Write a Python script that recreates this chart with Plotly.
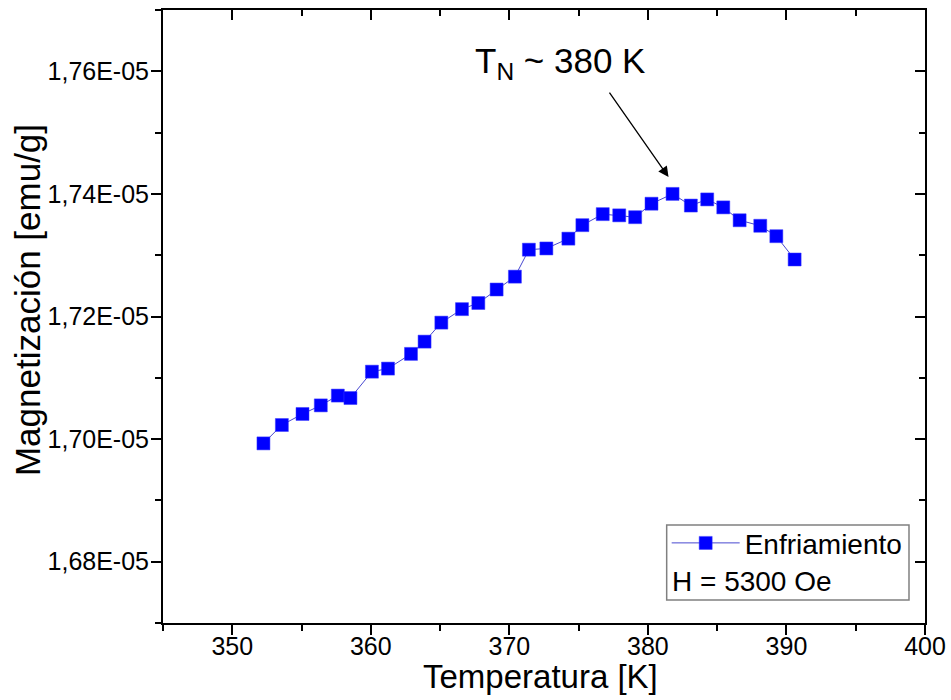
import plotly.graph_objects as go

temperature_K = [352.25, 353.58, 355.07, 356.39, 357.62, 358.53, 360.08, 361.24, 362.90, 363.88,
                 365.09, 366.58, 367.76, 369.08, 370.40, 371.41, 372.67, 374.26, 375.27, 376.74,
                 377.93, 379.08, 380.26, 381.78, 383.10, 384.28, 385.44, 386.62, 388.11, 389.27,
                 390.59]
magnetization = [1.6993e-05, 1.7023e-05, 1.7041e-05, 1.7055e-05, 1.7071e-05, 1.7067e-05, 1.7110e-05,
                 1.7115e-05, 1.7139e-05, 1.7159e-05, 1.7190e-05, 1.7212e-05, 1.7222e-05, 1.7244e-05,
                 1.7265e-05, 1.7309e-05, 1.7311e-05, 1.7327e-05, 1.7349e-05, 1.7367e-05, 1.7365e-05,
                 1.7362e-05, 1.7384e-05, 1.7400e-05, 1.7381e-05, 1.7391e-05, 1.7378e-05, 1.7357e-05,
                 1.7348e-05, 1.7331e-05, 1.7293e-05]

x_tickvals = [350, 360, 370, 380, 390, 400]
x_ticktext = ["350", "360", "370", "380", "390", "400"]
y_tickvals = [1.68e-05, 1.70e-05, 1.72e-05, 1.74e-05, 1.76e-05]
y_ticktext = ["1,68E-05", "1,70E-05", "1,72E-05", "1,74E-05", "1,76E-05"]

series_name = "Enfriamiento"
field_label = "H = 5300 Oe"
peak_label = "T<sub>N</sub> ~ 380 K"
x_title = "Temperatura [K]"
y_title = "Magnetización [emu/g]"

FONT = "Liberation Sans, Arial, sans-serif"
x_range = [345, 400]
y_range = [1.67e-05, 1.77e-05]

fig = go.Figure()
fig.add_trace(go.Scatter(
    x=temperature_K, y=magnetization, mode="lines+markers", name=series_name,
    line=dict(color="#4848d0", width=1),
    marker=dict(symbol="square", size=13, color="#0000ff", line=dict(color="#3a3aff", width=0.5)),
))
# invisible copy to activate mirrored axes with inward ticks
fig.add_trace(go.Scatter(
    x=temperature_K, y=magnetization, mode="markers", xaxis="x2", yaxis="y2",
    marker=dict(opacity=0), showlegend=False, hoverinfo="skip",
))

axis_common = dict(showgrid=False, zeroline=False, color="black", automargin=False,
                   tickfont=dict(family=FONT, size=25, color="black"))

fig.update_layout(
    width=951, height=700,
    margin=dict(l=163, r=26, t=10, b=77, autoexpand=False),
    paper_bgcolor="white", plot_bgcolor="white",
    font=dict(family=FONT, color="black"),
    xaxis=dict(range=x_range, tickvals=x_tickvals, ticktext=x_ticktext,
               showline=True, linewidth=2, linecolor="black", mirror=True,
               ticks="outside", ticklen=10, tickwidth=2, tickcolor="black", ticklabelstandoff=-10,
               minor=dict(dtick=5, tick0=345, ticks="outside", ticklen=6, tickwidth=2, tickcolor="black"),
               **axis_common),
    yaxis=dict(range=y_range, tickvals=y_tickvals, ticktext=y_ticktext,
               showline=True, linewidth=2, linecolor="black", mirror=True,
               ticks="outside", ticklen=10, tickwidth=2, tickcolor="black", ticklabelstandoff=-3,
               minor=dict(dtick=1e-07, tick0=1.67e-05, ticks="outside", ticklen=6, tickwidth=2, tickcolor="black"),
               **axis_common),
    xaxis2=dict(range=x_range, overlaying="x", side="top", anchor="y", tickvals=x_tickvals,
                showticklabels=False, showline=False, showgrid=False, zeroline=False, automargin=False,
                ticks="inside", ticklen=10, tickwidth=2, tickcolor="black",
                minor=dict(dtick=5, tick0=345, ticks="inside", ticklen=6, tickwidth=2, tickcolor="black")),
    yaxis2=dict(range=y_range, overlaying="y", side="right", anchor="x", tickvals=y_tickvals,
                showticklabels=False, showline=False, showgrid=False, zeroline=False, automargin=False,
                ticks="inside", ticklen=10, tickwidth=2, tickcolor="black",
                minor=dict(dtick=1e-07, tick0=1.67e-05, ticks="inside", ticklen=6, tickwidth=2, tickcolor="black")),
    showlegend=True,
    legend=dict(x=0.661, y=0.171, xanchor="left", yanchor="top",
                bgcolor="rgba(0,0,0,0)", borderwidth=0,
                font=dict(family=FONT, size=28, color="black"),
                itemwidth=68, tracegroupgap=0),
)

# axis titles
fig.add_annotation(text=y_title, xref="paper", yref="paper", x=-0.177, y=0.527,
                   xanchor="center", yanchor="middle", textangle=-90, showarrow=False,
                   font=dict(family=FONT, size=35, color="black"))
fig.add_annotation(text=x_title, xref="paper", yref="paper", x=0.495, y=-0.0865,
                   xanchor="center", yanchor="middle", showarrow=False,
                   font=dict(family=FONT, size=33, color="black"))

# legend frame
fig.add_shape(type="rect", xref="paper", yref="paper", x0=0.661, x1=0.979, y0=0.0375, y1=0.160,
              line=dict(color="#808080", width=1.5), fillcolor="rgba(0,0,0,0)")
fig.add_annotation(text=field_label, xref="paper", yref="paper", x=0.666, y=0.0669,
                   xanchor="left", yanchor="middle", showarrow=False,
                   font=dict(family=FONT, size=28, color="black"))

# peak arrow
fig.add_annotation(x=381.49, y=1.74276e-05, ax=377.15, ay=1.75675e-05, xref="x", yref="y",
                   axref="x", ayref="y", text="", showarrow=True, arrowhead=2, arrowsize=1.6,
                   arrowwidth=1.3, arrowcolor="black")
fig.add_annotation(x=373.68, y=1.7614e-05, xref="x", yref="y", text=peak_label, showarrow=False,
                   font=dict(family=FONT, size=35, color="black"))

fig.write_html("out.html", config={"displayModeBar": False},
               post_script="document.body.style.margin='0';")
